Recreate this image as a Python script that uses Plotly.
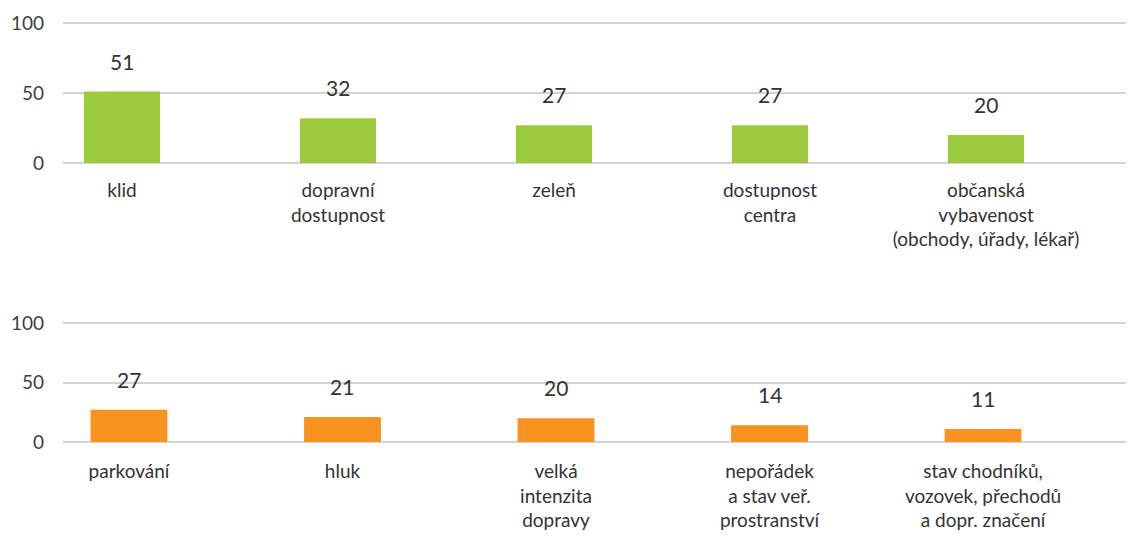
import plotly.graph_objects as go

top_categories = ["klid", "dopravní<br>dostupnost", "zeleň", "dostupnost<br>centra",
                  "občanská<br>vybavenost<br>(obchody, úřady, lékař)"]
top_values = [51, 32, 27, 27, 20]

bottom_categories = ["parkování", "hluk", "velká<br>intenzita<br>dopravy",
                     "nepořádek<br>a stav veř.<br>prostranství",
                     "stav chodníků,<br>vozovek, přechodů<br>a dopr. značení"]
bottom_values = [27, 21, 20, 14, 11]

y_ticks = [0, 50, 100]

GREEN = "#9BCB3C"
ORANGE = "#F7931E"
FONT = "Lato"
TXT = "#333333"
GRID = "#D4D4D4"

# page body has an 8px margin, so the figure is drawn 8px in from top-left
OFF = 8
W, H = 1134 - OFF, 537 - OFF

fig = go.Figure()
fig.add_trace(go.Bar(x=top_categories, y=top_values, marker=dict(color=GREEN, line=dict(width=0)),
                     width=0.352, xaxis="x", yaxis="y", hoverinfo="skip"))
fig.add_trace(go.Bar(x=bottom_categories, y=bottom_values, marker=dict(color=ORANGE, line=dict(width=0)),
                     width=0.36, xaxis="x2", yaxis="y2", hoverinfo="skip"))

annotations = []
for c, v in zip(top_categories, top_values):
    annotations.append(dict(x=c, y=v, xref="x", yref="y", text=str(v), showarrow=False,
                            yanchor="bottom", yshift=16, font=dict(family=FONT, size=21, color=TXT)))
for c, v in zip(bottom_categories, bottom_values):
    annotations.append(dict(x=c, y=v, xref="x2", yref="y2", text=str(v), showarrow=False,
                            yanchor="bottom", yshift=16, font=dict(family=FONT, size=21, color=TXT)))


def ydom(top_px, bot_px):
    return [1 - (bot_px - OFF) / H, 1 - (top_px - OFF) / H]


t_ppu = (163 - 23) / 100
b_ppu = (442 - 323) / 100

axis_font = dict(family=FONT, size=19, color="#404040")
cat_font = dict(family=FONT, size=19, color=TXT)

fig.update_layout(
    width=W, height=H,
    margin=dict(l=63 - OFF, r=0, t=0, b=0, autoexpand=False),
    paper_bgcolor="white", plot_bgcolor="white",
    showlegend=False,
    annotations=annotations,
    xaxis=dict(domain=[0, 1], range=[-0.273, 4.685], showgrid=False, zeroline=False,
               showline=False, ticks="", tickfont=cat_font, anchor="y", automargin=False,
               ticklabelstandoff=7),
    yaxis=dict(domain=ydom(23 - 5 * t_ppu, 163 + 5 * t_ppu), range=[-5, 105],
               tickvals=y_ticks, showgrid=True, gridcolor=GRID, gridwidth=2,
               zeroline=False, showline=False, ticks="", tickfont=axis_font,
               ticklabelstandoff=18, anchor="x", automargin=False),
    xaxis2=dict(domain=[0, 1], range=[-0.309, 4.707], showgrid=False, zeroline=False,
                showline=False, ticks="", tickfont=cat_font, anchor="y2", automargin=False,
                ticklabelstandoff=10),
    yaxis2=dict(domain=ydom(323 - 5 * b_ppu, 442 + 5 * b_ppu), range=[-5, 105],
                tickvals=y_ticks, showgrid=True, gridcolor=GRID, gridwidth=2,
                zeroline=False, showline=False, ticks="", tickfont=axis_font,
                ticklabelstandoff=18, anchor="x2", automargin=False),
)

fig.write_html("out.html")
